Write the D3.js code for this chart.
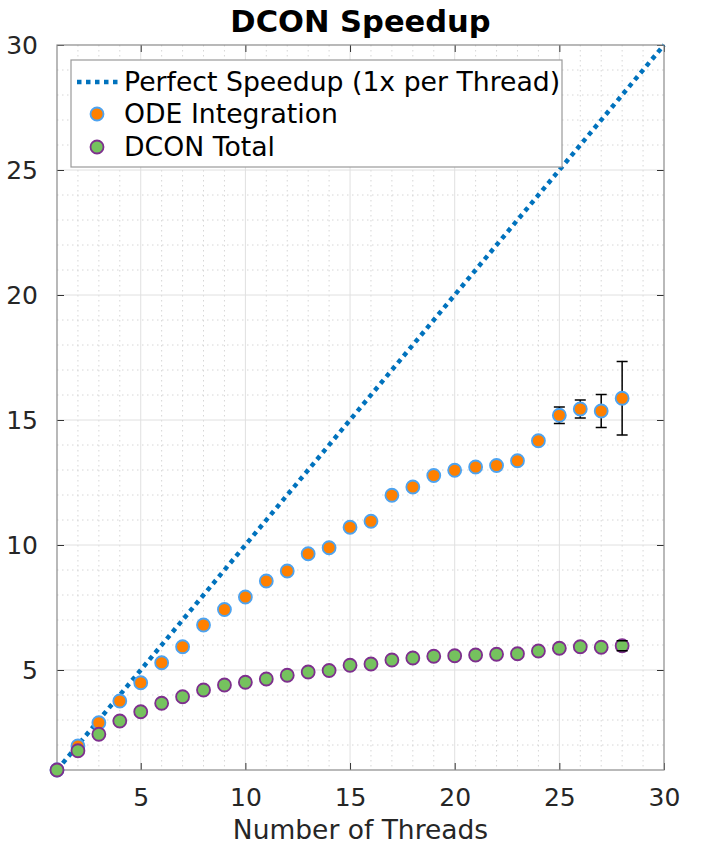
<!DOCTYPE html>
<html>
<head>
<meta charset="utf-8">
<script src="https://cdn.jsdelivr.net/npm/d3@7"></script>
<style>
  html, body { margin: 0; padding: 0; background: #fff; }
  svg { display: block; font-family: "DejaVu Sans", sans-serif; }
</style>
</head>
<body>
<svg id="chart" width="706" height="846"></svg>
<script>
const threads = [1,2,3,4,5,6,7,8,9,10,11,12,13,14,15,16,17,18,19,20,21,22,23,24,25,26,27,28];
const odeSpeedup = [1.00,1.96,2.89,3.76,4.49,5.29,5.93,6.80,7.42,7.92,8.56,8.96,9.65,9.89,10.71,10.95,11.99,12.32,12.78,12.99,13.12,13.18,13.37,14.17,15.19,15.44,15.36,15.87];
const odeErr = [0,0,0,0,0,0,0,0,0,0,0,0,0,0,0,0,0,0,0,0,0,0,0,0,0.33,0.36,0.66,1.47];
const dconTotal = [1.00,1.77,2.43,2.96,3.33,3.67,3.93,4.20,4.40,4.51,4.64,4.79,4.92,4.98,5.19,5.24,5.40,5.48,5.55,5.57,5.60,5.63,5.65,5.76,5.87,5.93,5.91,5.97];
const dconErr = [0,0,0,0,0,0,0,0,0,0,0,0,0,0,0,0,0,0,0,0,0,0,0,0,0,0,0,0.20];
const perfect = [1, 30];
const xTicks = [5,10,15,20,25,30];
const yTicks = [5,10,15,20,25,30];
const legendLabels = ["Perfect Speedup (1x per Thread)", "ODE Integration", "DCON Total"];
const titleText = "DCON Speedup";
const xLabelText = "Number of Threads";

const svg = d3.select("#chart");
const L = 57, R = 664, T = 45, B = 770;
const x = d3.scaleLinear().domain([1, 30]).range([L, R]);
const y = d3.scaleLinear().domain([1, 30]).range([B, T]);

// minor grid
const minorX = d3.range(2, 30).filter(v => v % 5 !== 0);
const minorY = d3.range(2, 30).filter(v => v % 5 !== 0);
const grid = svg.append("g");
grid.selectAll("line.mx").data(minorX).join("line")
  .attr("x1", d => x(d)).attr("x2", d => x(d)).attr("y1", T).attr("y2", B)
  .attr("stroke", "#d6d6d6").attr("stroke-width", 1).attr("stroke-dasharray", "1.5,3.5");
grid.selectAll("line.my").data(minorY).join("line")
  .attr("y1", d => y(d)).attr("y2", d => y(d)).attr("x1", L).attr("x2", R)
  .attr("stroke", "#d6d6d6").attr("stroke-width", 1).attr("stroke-dasharray", "1.5,3.5");
// major grid
grid.selectAll("line.Mx").data(xTicks.filter(v => v < 30)).join("line")
  .attr("x1", d => x(d)).attr("x2", d => x(d)).attr("y1", T).attr("y2", B)
  .attr("stroke", "#e0e0e0").attr("stroke-width", 1);
grid.selectAll("line.My").data(yTicks.filter(v => v < 30)).join("line")
  .attr("y1", d => y(d)).attr("y2", d => y(d)).attr("x1", L).attr("x2", R)
  .attr("stroke", "#e0e0e0").attr("stroke-width", 1);

// axes
const axColor = "#8a8a8a";
const xAxisB = d3.axisBottom(x).tickValues(xTicks).tickSize(-7).tickFormat(d3.format("d")).tickPadding(18);
const xAxisT = d3.axisTop(x).tickValues(xTicks).tickSize(-7).tickFormat("");
const yAxisL = d3.axisLeft(y).tickValues(yTicks).tickSize(-7).tickFormat(d3.format("d")).tickPadding(19);
const yAxisR = d3.axisRight(y).tickValues(yTicks).tickSize(-7).tickFormat("");
function styleAxis(g) {
  g.select(".domain").remove();
  g.selectAll(".tick line").attr("stroke", "#333").attr("stroke-width", 1);
  g.selectAll(".tick text").attr("fill", "#262626").attr("font-size", 25).attr("font-family", "DejaVu Sans");
}
svg.append("g").attr("transform", `translate(0,${B})`).call(xAxisB).call(styleAxis);
svg.append("g").attr("transform", `translate(0,${T})`).call(xAxisT).call(styleAxis);
svg.append("g").attr("transform", `translate(${L},0)`).call(yAxisL).call(styleAxis);
svg.append("g").attr("transform", `translate(${R},0)`).call(yAxisR).call(styleAxis);
svg.append("rect").attr("x", L).attr("y", T).attr("width", R - L).attr("height", B - T)
  .attr("fill", "none").attr("stroke", axColor).attr("stroke-width", 1.2);

// perfect line
svg.append("line")
  .attr("x1", x(perfect[0])).attr("y1", y(perfect[0]))
  .attr("x2", x(perfect[1])).attr("y2", y(perfect[1]))
  .attr("stroke", "#0072bd").attr("stroke-width", 4.5).attr("stroke-dasharray", "4.5,4.5");

const series = [
  { vals: odeSpeedup, err: odeErr, fill: "#ff8000", edge: "#4da3f0" },
  { vals: dconTotal, err: dconErr, fill: "#75c25e", edge: "#7e2f8e" }
];
const r = 6.5, cap = 5.5;
series.forEach(s => {
  const data = threads.map((t, i) => ({ t, v: s.vals[i], e: s.err[i] }));
  const eb = data.filter(d => d.e > 0);
  const g = svg.append("g");
  g.selectAll("line.v").data(eb).join("line")
    .attr("x1", d => x(d.t)).attr("x2", d => x(d.t))
    .attr("y1", d => y(d.v + d.e)).attr("y2", d => y(d.v - d.e))
    .attr("stroke", "#000").attr("stroke-width", 1.5);
  g.selectAll("circle").data(data).join("circle")
    .attr("cx", d => x(d.t)).attr("cy", d => y(d.v)).attr("r", r)
    .attr("fill", s.fill).attr("stroke", s.edge).attr("stroke-width", 1.8);
  const caps = eb.flatMap(d => [{ t: d.t, v: d.v + d.e }, { t: d.t, v: d.v - d.e }]);
  g.selectAll("line.c").data(caps).join("line")
    .attr("x1", d => x(d.t) - cap).attr("x2", d => x(d.t) + cap)
    .attr("y1", d => y(d.v)).attr("y2", d => y(d.v))
    .attr("stroke", "#000").attr("stroke-width", 1.5);
});

// legend
const lg = svg.append("g");
lg.append("rect").attr("x", 71).attr("y", 60).attr("width", 491).attr("height", 107)
  .attr("fill", "#fff").attr("stroke", "#9a9a9a").attr("stroke-width", 1.2);
const rowY = [82, 114, 147];
lg.append("line").attr("x1", 77).attr("x2", 118).attr("y1", rowY[0]).attr("y2", rowY[0])
  .attr("stroke", "#0072bd").attr("stroke-width", 4.5).attr("stroke-dasharray", "4.5,4.5");
series.forEach((s, i) => {
  lg.append("circle").attr("cx", 97).attr("cy", rowY[i + 1]).attr("r", r)
    .attr("fill", s.fill).attr("stroke", s.edge).attr("stroke-width", 1.8);
});
lg.selectAll("text").data(legendLabels).join("text")
  .attr("x", 124).attr("y", (d, i) => rowY[i] + 9)
  .attr("font-size", 26.7).attr("fill", "#000").text(d => d);

// title & label
svg.append("text").attr("x", (L + R) / 2).attr("y", 32).attr("text-anchor", "middle")
  .attr("font-size", 30.5).attr("font-weight", "bold").attr("fill", "#000").text(titleText);
svg.append("text").attr("x", (L + R) / 2).attr("y", 839).attr("text-anchor", "middle")
  .attr("font-size", 26.5).attr("fill", "#262626").text(xLabelText);
</script>
</body>
</html>
